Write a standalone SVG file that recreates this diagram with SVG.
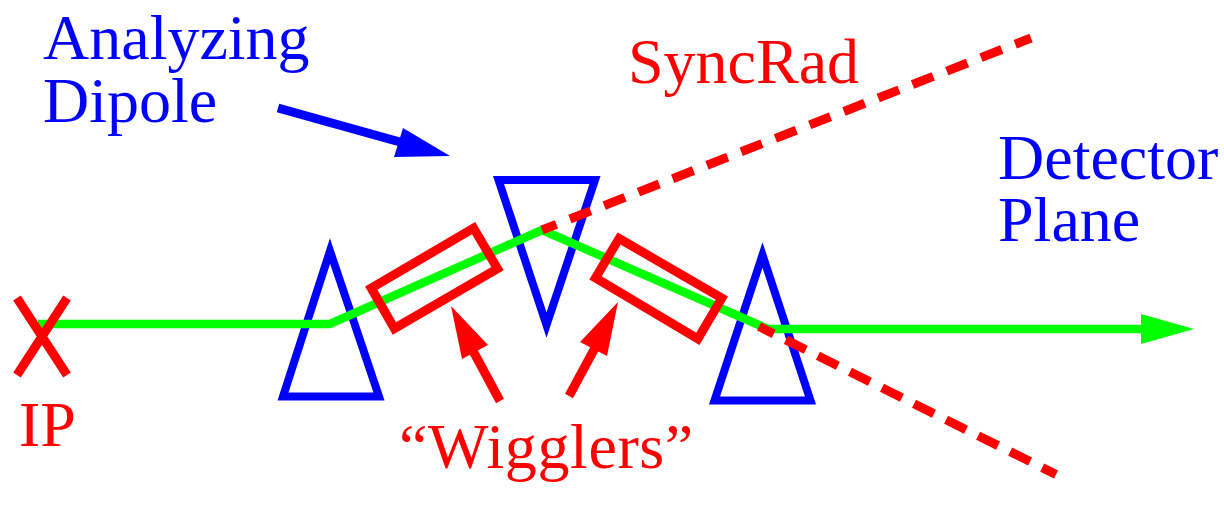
<svg xmlns="http://www.w3.org/2000/svg" width="1224" height="516" viewBox="0 0 1224 516">
<style>
text{font-family:"Liberation Serif","Times New Roman",serif;font-size:64px}
.b{fill:#0000ff}.r{fill:#ff0000}
.tri{fill:none;stroke:#0000ff;stroke-width:8}
.wig{fill:none;stroke:#ff0000;stroke-width:9}
.g{fill:none;stroke:#00ff00;stroke-width:8.500}
.rd{fill:none;stroke:#ff0000;stroke-width:9}
.ln{fill:none;stroke-width:9}
</style>
<rect width="1224" height="516" fill="#fff"/>
<g id="dipole-1"><polygon class="tri" points="330,251 283,396.500 379,396.500"/></g>
<g id="dipole-2"><polygon class="tri" points="546.500,325 498.500,180 595,180"/></g>
<g id="dipole-3"><polygon class="tri" points="762.500,255 714.500,400.500 810.500,400.500"/></g>
<g id="connectors">
<path class="g" d="M38 324H330L542 230L768 329H1145"/>
<polygon points="1194,329 1141,314 1141,344" fill="#00ff00"/>
<path class="rd" stroke-dasharray="22.3 14.5" stroke-dashoffset="6.800" d="M542 230L1031 38"/>
<path class="rd" stroke-dasharray="22.3 13.5" stroke-dashoffset="5.800" d="M759 326.500L1056 474.500"/>
<path class="ln" stroke="#0000ff" d="M278 108L400 142"/>
<polygon points="450,156 403,128 394,157" fill="#0000ff"/>
<path class="ln" stroke="#ff0000" d="M500 401L472 349"/>
<polygon points="451,306 488,345 462,359" fill="#ff0000"/>
<path class="ln" stroke="#ff0000" d="M569 396L596 346"/>
<polygon points="618,302 580,342 607,356" fill="#ff0000"/>
</g>
<g id="ip"><path class="ln" stroke="#ff0000" d="M17 298L67 375M67 298L17 375"/><text class="r" x="19" y="446">IP</text></g>
<g id="wiggler-1"><polygon class="wig" points="371.200,288.100 473.600,228.200 497.500,268.600 394.400,328.500"/></g>
<g id="wiggler-2"><polygon class="wig" points="619.100,238.500 721.800,298.200 697.900,338.900 595.500,277.900"/></g>
<g id="label-analyzing"><text class="b" x="43" y="59">Analyzing</text><text class="b" x="43" y="122">Dipole</text></g>
<g id="label-syncrad"><text class="r" x="628" y="83">SyncRad</text></g>
<g id="label-detector"><text class="b" x="998" y="179">Detector</text><text class="b" x="998" y="241">Plane</text></g>
<g id="label-wigglers"><text class="r" x="399" y="468" letter-spacing="0.6">“Wigglers”</text></g>
</svg>
